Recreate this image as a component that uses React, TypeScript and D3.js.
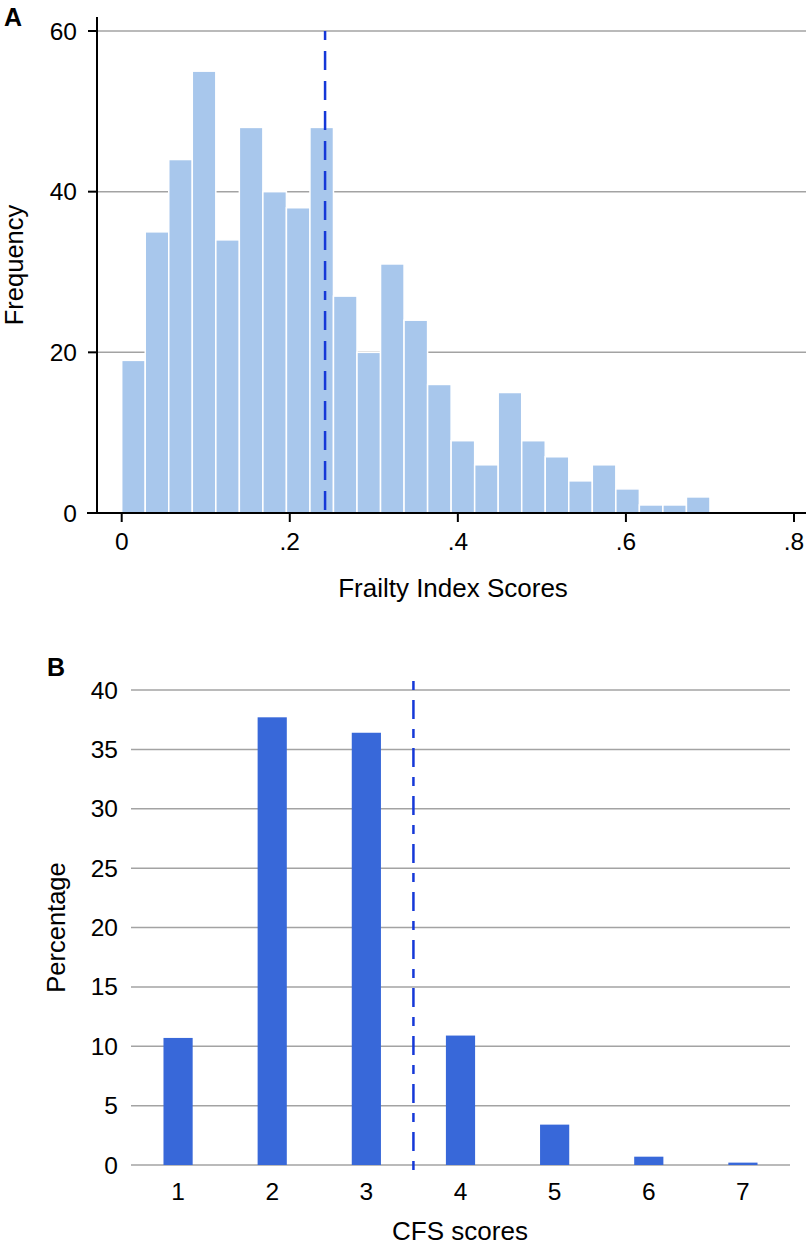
import React from "react";
import * as d3 from "d3";

// Panel A: Frailty Index histogram
const fiBinStarts = [0, 0.028, 0.056, 0.084, 0.112, 0.14, 0.168, 0.196, 0.224, 0.252, 0.28, 0.308, 0.336, 0.364, 0.392, 0.42, 0.448, 0.476, 0.504, 0.532, 0.56, 0.588, 0.616, 0.644, 0.672];
const fiBinWidth = 0.028;
const fiFrequencies = [19, 35, 44, 55, 34, 48, 40, 38, 48, 27, 20, 31, 24, 16, 9, 6, 15, 9, 7, 4, 6, 3, 1, 1, 2];
const fiXTicks = [0, 0.2, 0.4, 0.6, 0.8];
const fiXTickLabels = ["0", ".2", ".4", ".6", ".8"];
const fiYTicks = [0, 20, 40, 60];
const fiCutoff = 0.242;

// Panel B: CFS scores
const cfsCategories = ["1", "2", "3", "4", "5", "6", "7"];
const cfsPercentages = [10.7, 37.7, 36.4, 10.9, 3.4, 0.7, 0.2];
const cfsYTicks = [0, 5, 10, 15, 20, 25, 30, 35, 40];
const cfsCutoff = 3.5;

const FONT = "'Liberation Sans', Arial, Helvetica, sans-serif";
const GRID = "#a3a3a3";
const DASH = "#1538d8";

export default function App() {
  // Panel A scales
  const xA = d3.scaleLinear().domain([0, 0.8]).range([121.7, 794]);
  const yA = d3.scaleLinear().domain([0, 60]).range([513, 31]);

  // Panel B scales
  const xB = d3.scaleBand<string>().domain(cfsCategories).range([131, 790]).paddingInner(0.69).paddingOuter(0.345);
  const yB = d3.scaleLinear().domain([0, 40]).range([1165, 690]);
  const bCenter = (c: string) => (xB(c) as number) + xB.bandwidth() / 2;
  const cutX = (bCenter("3") + bCenter("4")) / 2 + (cfsCutoff - 3.5) * xB.step();

  return (
    <div style={{ position: "absolute", left: 0, top: 0 }}>
      <svg width={806} height={1246} style={{ display: "block", fontFamily: FONT }}>
        <rect width={806} height={1246} fill="#fff" />

        {/* ---------- Panel A ---------- */}
        <text x={4} y={26} fontSize={25} fontWeight="bold" fill="#000">A</text>
        {fiYTicks.filter((t) => t > 0).map((t) => (
          <line key={"ga" + t} x1={97} x2={806} y1={yA(t)} y2={yA(t)} stroke={GRID} strokeWidth={1.5} />
        ))}
        {fiFrequencies.map((f, i) => (
          <rect
            key={"ba" + i}
            x={xA(fiBinStarts[i])}
            y={yA(f)}
            width={xA(fiBinStarts[i] + fiBinWidth) - xA(fiBinStarts[i])}
            height={yA(0) - yA(f)}
            fill="#a8c7ec"
            stroke="#ffffff"
            strokeWidth={1.5}
          />
        ))}
        <line x1={xA(fiCutoff)} x2={xA(fiCutoff)} y1={yA(60)} y2={yA(0)} stroke={DASH} strokeWidth={2.5} strokeDasharray="9,11,19,11,19,11,19,11,19,11,19,11,19,11,19,11,19,11" />
        {/* axes */}
        <line x1={97} x2={97} y1={17} y2={513} stroke="#000" strokeWidth={2} />
        <line x1={87} x2={806} y1={513} y2={513} stroke="#000" strokeWidth={2} />
        {fiYTicks.map((t) => (
          <g key={"ya" + t}>
            <line x1={88} x2={97} y1={yA(t)} y2={yA(t)} stroke="#000" strokeWidth={2} />
            <text x={77} y={yA(t)} dy="0.35em" textAnchor="end" fontSize={24.5} fill="#000">{t}</text>
          </g>
        ))}
        {fiXTicks.map((t, i) => (
          <g key={"xa" + t}>
            <line x1={xA(t)} x2={xA(t)} y1={513} y2={522} stroke="#000" strokeWidth={2} />
            <text x={xA(t)} y={550} textAnchor="middle" fontSize={24.5} fill="#000">{fiXTickLabels[i]}</text>
          </g>
        ))}
        <text x={453} y={597} textAnchor="middle" fontSize={26} fill="#000">Frailty Index Scores</text>
        <text transform={`translate(23,${yA(0) / 2 + 17 / 2}) rotate(-90)`} textAnchor="middle" fontSize={25.5} fill="#000">Frequency</text>

        {/* ---------- Panel B ---------- */}
        <text x={47} y={676} fontSize={25} fontWeight="bold" fill="#000">B</text>
        {cfsYTicks.map((t) => (
          <g key={"yb" + t}>
            <line x1={131} x2={790} y1={yB(t)} y2={yB(t)} stroke={GRID} strokeWidth={1.5} />
            <text x={118} y={yB(t)} dy="0.35em" textAnchor="end" fontSize={24.5} fill="#000">{t}</text>
          </g>
        ))}
        {cfsPercentages.map((p, i) => (
          <rect
            key={"bb" + i}
            x={xB(cfsCategories[i])}
            y={yB(p)}
            width={xB.bandwidth()}
            height={yB(0) - yB(p)}
            fill="#3868d9"
          />
        ))}
        <line x1={cutX} x2={cutX} y1={681} y2={1172} stroke={DASH} strokeWidth={2.5} strokeDasharray="9,10,19,10" />
        {cfsCategories.map((c) => (
          <text key={"xb" + c} x={bCenter(c)} y={1200} textAnchor="middle" fontSize={24.5} fill="#000">{c}</text>
        ))}
        <text x={460} y={1240} textAnchor="middle" fontSize={26} fill="#000">CFS scores</text>
        <text transform={`translate(65,${(yB(0) + yB(40)) / 2}) rotate(-90)`} textAnchor="middle" fontSize={25.5} fill="#000">Percentage</text>
      </svg>
    </div>
  );
}
